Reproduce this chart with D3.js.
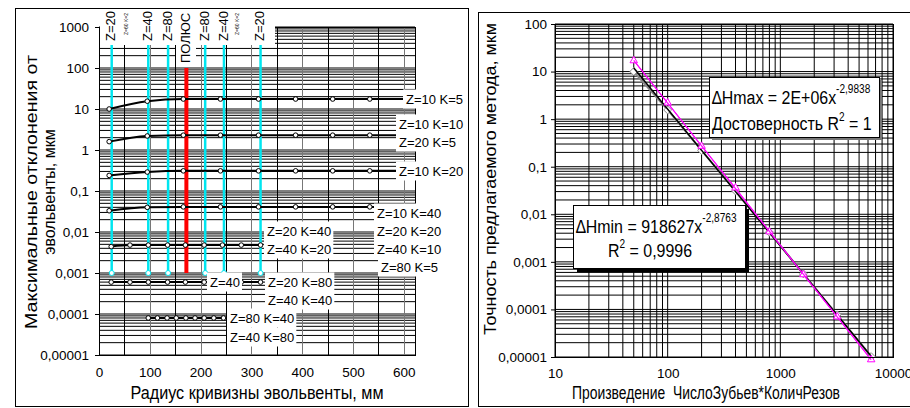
<!DOCTYPE html>
<html>
<head>
<meta charset="utf-8">
<script src="https://d3js.org/d3.v7.min.js"></script>
<style>
body { margin: 0; background: #fff; }
svg text { font-family: "Liberation Sans", Arial, sans-serif; fill: #000; }
.tick text { font-size: 13.5px; }
</style>
</head>
<body>
<div id="chart"></div>
<script>
// ---- left chart: deviation vs involute radius ----
let radiusA = [20, 95, 166, 239, 314, 387, 460, 533, 606];
let radiusB = [24, 61, 97, 135, 170, 207, 243, 280, 318];
let radiusC = [97, 115, 134, 152, 171, 189, 207, 226, 245];

let devRow1 = [10, 15.5, 17.5, 17.5, 17.5, 17.5, 17.5, 17.5, 17.5];
let devRow2 = [1.6, 2.2, 2.3, 2.3, 2.3, 2.3, 2.3, 2.3, 2.3];
let devRow3 = [0.24, 0.29, 0.31, 0.31, 0.31, 0.31, 0.31, 0.31, 0.31];
let devRow4 = [0.033, 0.04, 0.041, 0.041, 0.041, 0.041, 0.041, 0.041, 0.041];
let devRow5 = [0.0044, 0.0048, 0.0048, 0.0048, 0.0048, 0.0048, 0.0048, 0.0048, 0.0048];
let devRow6 = [0.0006, 0.0006, 0.0006, 0.0006, 0.0006, 0.0006, 0.0006, 0.0006, 0.0006];
let devRow7 = [0.00008, 0.00008, 0.00008, 0.00008, 0.00008, 0.00008, 0.00008, 0.00008, 0.00008];

// vertical marker lines (cyan) and the pole (red)
let zLineX = [25, 97, 136, 209, 246, 318];
let zLineNames = ["Z=20", "Z=40", "Z=80", "Z=80", "Z=40", "Z=20"];
let zLineRange = [0.001, 1000];
let poleX = 172;
let poleRange = [0.001, 100];

let leftXTicks = [0, 100, 200, 300, 400, 500, 600];
let leftYTicks = [0.00001, 0.0001, 0.001, 0.01, 0.1, 1, 10, 100, 1000];

// ---- right chart: accuracy vs Z*K ----
let prodX = [50, 100, 200, 400, 800, 1600, 3200, 6400];
let hMax = [17, 2.2, 0.27, 0.036, 0.0043, 0.00054, 0.00007, 0.0000088];
let hMin = [10, 1.56, 0.22, 0.031, 0.0042, 0.00056, 0.000077, 0.0000102];
let hMaxTrendX = [50, 6400];
let hMaxTrendY = [17.2, 0.0000088];
let hMinTrendX = [50, 6400];
let hMinTrendY = [11.9, 0.0000104];

let rightXTicks = [10, 100, 1000, 10000];
let rightYTicks = [0.00001, 0.0001, 0.001, 0.01, 0.1, 1, 10, 100];

// annotation labels on the left chart [text, left x, centre y] in pixels
let rowLabels = [
    ["Z=10 K=5", 406, 99],
    ["Z=10 K=10", 399, 124],
    ["Z=20 K=5", 399, 142],
    ["Z=10 K=20", 399, 171],
    ["Z=10 K=40", 377, 213],
    ["Z=20 K=20", 377, 231],
    ["Z=40 K=10", 377, 249],
    ["Z=80 K=5", 381, 267],
    ["Z=20 K=40", 267, 231],
    ["Z=40 K=20", 267, 249],
    ["Z=40", 210, 282],
    ["Z=20 K=80", 268, 282],
    ["Z=40 K=40", 268, 300],
    ["Z=80 K=40", 230, 318],
    ["Z=40 K=80", 230, 337]
];

const loc = d3.formatLocale({decimal: ",", thousands: " ", grouping: [3], currency: ["", ""]});
const fmt = loc.format("~f");

const svg = d3.select("#chart").append("svg").attr("width", 910).attr("height", 408);

//outer frames
svg.append("rect").attr("x", 15.5).attr("y", 8.5).attr("width", 453).attr("height", 398)
    .attr("fill", "none").attr("stroke", "#000");
svg.append("rect").attr("x", 478.5).attr("y", 12.5).attr("width", 470).attr("height", 394)
    .attr("fill", "none").attr("stroke", "#000");

function logGrid(lo, hi) {
    //every 1..9 step inside each decade
    let out = [];
    for (let e = lo; e < hi; e++) {
        for (let k = 1; k < 10; k++) out.push(k * Math.pow(10, e));
    }
    out.push(Math.pow(10, hi));
    return out;
}
const px = v => Math.round(v) + 0.5;

/* ================= LEFT ================= */
const xL = d3.scaleLinear().domain([0, 622]).range([99, 415]);
const yL = d3.scaleLog().domain([1e-5, 1000]).range([355, 27]);
const gL = svg.append("g");

gL.selectAll(".hgl").data(logGrid(-5, 3)).join("line")
    .attr("x1", 99).attr("x2", 415)
    .attr("y1", d => yL(d)).attr("y2", d => yL(d))
    .attr("stroke", "#000").attr("stroke-width", 1);

gL.selectAll(".vgl").data(d3.range(50, 601, 50)).join("line")
    .attr("x1", d => px(xL(d))).attr("x2", d => px(xL(d)))
    .attr("y1", 27).attr("y2", 355)
    .attr("stroke", d => d % 100 === 0 ? "#777" : "#000").attr("stroke-width", 1);

gL.append("rect").attr("x", 99.5).attr("y", 27.5).attr("width", 316).attr("height", 328)
    .attr("fill", "none").attr("stroke", "#000");

//cyan Z lines
gL.selectAll(".zl").data(zLineX).join("line")
    .attr("x1", d => xL(d)).attr("x2", d => xL(d))
    .attr("y1", yL(zLineRange[0])).attr("y2", yL(zLineRange[1]))
    .attr("stroke", "#00E6F0").attr("stroke-width", 2.5);
gL.selectAll(".zc").data(zLineX).join("circle")
    .attr("cx", d => xL(d)).attr("cy", yL(zLineRange[0])).attr("r", 2.5)
    .attr("fill", "#fff").attr("stroke", "#00E6F0").attr("stroke-width", 1);

//pole
gL.append("line")
    .attr("x1", xL(poleX)).attr("x2", xL(poleX))
    .attr("y1", yL(poleRange[0])).attr("y2", yL(poleRange[1]))
    .attr("stroke", "#ff0000").attr("stroke-width", 4);

//deviation rows
let rows = [
    [radiusA, devRow1], [radiusA, devRow2], [radiusA, devRow3], [radiusA, devRow4],
    [radiusB, devRow5], [radiusB, devRow6], [radiusC, devRow7]
];
let lineL = d3.line().curve(d3.curveMonotoneX).x(d => xL(d[0])).y(d => yL(d[1]));
rows.forEach(function(r) {
    let pts = r[0].map((x, i) => [x, r[1][i]]);
    gL.append("path").datum(pts).attr("d", lineL)
        .attr("fill", "none").attr("stroke", "#000").attr("stroke-width", 2);
    gL.selectAll(null).data(pts).join("circle")
        .attr("cx", d => xL(d[0])).attr("cy", d => yL(d[1])).attr("r", 2.3)
        .attr("fill", "#fff").attr("stroke", "#000").attr("stroke-width", 1);
});

//white band behind the vertical labels at the top
gL.append("rect").attr("x", 100).attr("y", 9).attr("width", 175).attr("height", 36).attr("fill", "#fff");
gL.append("rect").attr("x", 176).attr("y", 9).attr("width", 20).attr("height", 57).attr("fill", "#fff");

gL.selectAll(".zt").data(zLineX).join("text")
    .attr("transform", d => `translate(${xL(d) - 1},41) rotate(-90)`)
    .attr("dy", "0.36em").attr("font-size", 13)
    .text((d, i) => zLineNames[i]);
gL.append("text")
    .attr("transform", `translate(${xL(poleX) - 1},63) rotate(-90)`)
    .attr("dy", "0.36em").attr("font-size", 13).text("ПОЛЮС");
//tiny unreadable labels
gL.selectAll(".tiny").data([radiusB[1], radiusB[7]]).join("text")
    .attr("transform", d => `translate(${xL(d) - 2},35) rotate(-90)`)
    .attr("font-size", 5).text("Z=60 K=2");

//row labels with white boxes
rowLabels.forEach(function(l) {
    let g = gL.append("g");
    let t = g.append("text").attr("x", l[1]).attr("y", l[2]).attr("dy", "0.36em")
        .attr("font-size", 13).text(l[0]);
    let b = t.node().getBBox();
    g.insert("rect", "text").attr("x", b.x - 3).attr("y", l[2] - 9.5)
        .attr("width", b.width + 5).attr("height", 19).attr("fill", "#fff");
});

//axes
let axL = gL.append("g").attr("transform", "translate(99,0)")
    .call(d3.axisLeft(yL).tickValues(leftYTicks).tickFormat(fmt).tickSize(4).tickSizeOuter(0).tickPadding(6));
axL.attr("font-family", null).attr("font-size", null);
axL.select(".domain").attr("stroke", "#000");
let axLx = gL.append("g").attr("transform", "translate(0,355)")
    .call(d3.axisBottom(xL).tickValues(leftXTicks).tickFormat(d3.format("d")).tickSize(0).tickPadding(12));
axLx.attr("font-family", null).attr("font-size", null);
axLx.select(".domain").attr("stroke", "#000");

gL.append("text").attr("x", 257).attr("y", 399).attr("text-anchor", "middle")
    .attr("font-size", 17.5).attr("textLength", 253).attr("lengthAdjust", "spacingAndGlyphs")
    .text("Радиус кривизны эвольвенты, мм");
let ytl = gL.append("text").attr("transform", "translate(40,192) rotate(-90)")
    .attr("text-anchor", "middle").attr("font-size", 16);
ytl.append("tspan").attr("x", 0).attr("y", -3).attr("textLength", 274).attr("lengthAdjust", "spacingAndGlyphs")
    .text("Максимальные отклонения от");
ytl.append("tspan").attr("x", 0).attr("y", 15).text("эвольвенты, мкм");

/* ================= RIGHT ================= */
const xR = d3.scaleLog().domain([10, 10000]).range([555, 893]);
const yR = d3.scaleLog().domain([1e-5, 100]).range([357, 24]);
const gR = svg.append("g");

gR.selectAll(".hgr").data(logGrid(-5, 2)).join("line")
    .attr("x1", 555).attr("x2", 893)
    .attr("y1", d => yR(d)).attr("y2", d => yR(d))
    .attr("stroke", "#000").attr("stroke-width", 1);
gR.selectAll(".vgr").data(logGrid(1, 4)).join("line")
    .attr("x1", d => xR(d)).attr("x2", d => xR(d))
    .attr("y1", 24).attr("y2", 357)
    .attr("stroke", "#000").attr("stroke-width", 1);
gR.append("rect").attr("x", 555.5).attr("y", 24.5).attr("width", 338).attr("height", 333)
    .attr("fill", "none").attr("stroke", "#000");

let lineR = d3.line().x(d => xR(d[0])).y(d => yR(d[1]));
let minPts = prodX.map((x, i) => [x, hMin[i]]);
let maxPts = prodX.map((x, i) => [x, hMax[i]]);

gR.append("path").datum(minPts).attr("d", lineR)
    .attr("fill", "none").attr("stroke", "#888").attr("stroke-width", 2);
gR.selectAll(".dm").data(minPts).join("path")
    .attr("transform", d => `translate(${xR(d[0])},${yR(d[1])})`)
    .attr("d", d3.symbol(d3.symbolDiamond2, 40))
    .attr("fill", "#fff").attr("stroke", "#888").attr("stroke-width", 1);
gR.append("path").datum(hMinTrendX.map((x, i) => [x, hMinTrendY[i]])).attr("d", lineR)
    .attr("fill", "none").attr("stroke", "#000").attr("stroke-width", 1.5);

gR.append("path").datum(maxPts).attr("d", lineR)
    .attr("fill", "none").attr("stroke", "#ff00ff").attr("stroke-width", 1);
gR.selectAll(".tm").data(maxPts).join("path")
    .attr("transform", d => `translate(${xR(d[0])},${yR(d[1])})`)
    .attr("d", d3.symbol(d3.symbolTriangle2, 40))
    .attr("fill", "#fff").attr("stroke", "#ff00ff").attr("stroke-width", 1);
gR.append("path").datum(hMaxTrendX.map((x, i) => [x, hMaxTrendY[i]])).attr("d", lineR)
    .attr("fill", "none").attr("stroke", "#ff00ff").attr("stroke-width", 1.2);

//equation boxes (text is narrow and tall in the original, so squeeze it)
function eqLine(x, y, parts) {
    let t = gR.append("g").attr("transform", `translate(${x},${y}) scale(0.84,1)`)
        .append("text").attr("font-size", 19);
    parts.forEach(function(p) {
        let s = t.append("tspan").text(p[0]);
        if (p[1]) s.attr("dy", p[1]);
        if (p[2]) s.attr("font-size", p[2]);
    });
}
gR.append("rect").attr("x", 712).attr("y", 80).attr("width", 170).attr("height", 60).attr("fill", "#777");
gR.append("rect").attr("x", 709.5).attr("y", 77.5).attr("width", 170).attr("height", 60)
    .attr("fill", "#fff").attr("stroke", "#000");
eqLine(712, 104, [["∆Hmax = 2E+06x"], ["-2,9838", -11, 12]]);
eqLine(712, 130, [["Достоверность R"], ["2", -9, 12], [" = 1", 9]]);

gR.append("rect").attr("x", 577).attr("y", 209).attr("width", 172).attr("height", 63).attr("fill", "#000");
gR.append("rect").attr("x", 573.5).attr("y", 205.5).attr("width", 172).attr("height", 63)
    .attr("fill", "#fff").attr("stroke", "#000");
eqLine(576, 233, [["∆Hmin = 918627x"], ["-2,8763", -11, 12]]);
eqLine(608, 257, [["R"], ["2", -9, 12], [" = 0,9996", 9]]);

let axR = gR.append("g").attr("transform", "translate(555,0)")
    .call(d3.axisLeft(yR).tickValues(rightYTicks).tickFormat(fmt).tickSize(4).tickSizeOuter(0).tickPadding(4));
axR.attr("font-family", null).attr("font-size", null);
axR.select(".domain").attr("stroke", "#000");
let axRx = gR.append("g").attr("transform", "translate(0,357)")
    .call(d3.axisBottom(xR).tickValues(rightXTicks).tickFormat(d3.format("d")).tickSize(0).tickPadding(11));
axRx.attr("font-family", null).attr("font-size", null);
axRx.select(".domain").attr("stroke", "#000");

gR.append("text").attr("x", 706).attr("y", 399).attr("text-anchor", "middle")
    .attr("font-size", 17.5).style("white-space", "pre")
    .attr("textLength", 268).attr("lengthAdjust", "spacingAndGlyphs")
    .text("Произведение  ЧислоЗубьев*КоличРезов");
gR.append("text").attr("transform", "translate(490,179) rotate(-90)")
    .attr("dy", "0.36em").attr("text-anchor", "middle").attr("font-size", 16)
    .attr("textLength", 312).attr("lengthAdjust", "spacingAndGlyphs")
    .text("Точность предлагаемого метода, мкм");
</script>
</body>
</html>
